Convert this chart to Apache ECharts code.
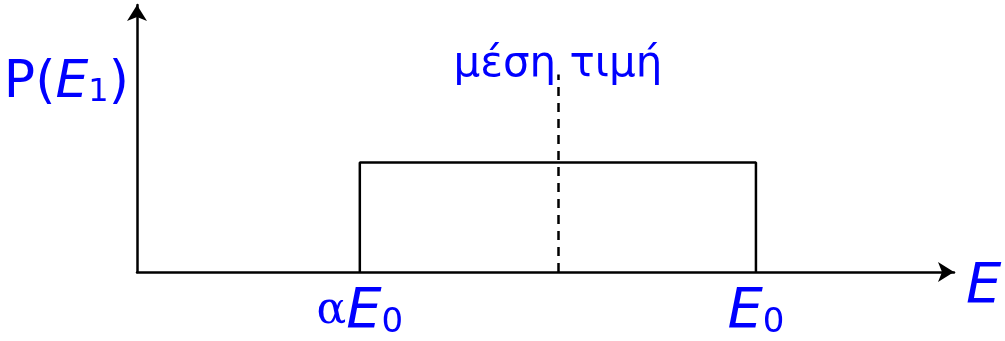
<!DOCTYPE html>
<html>
<head>
<meta charset="utf-8">
<script src="https://cdn.jsdelivr.net/npm/echarts@6/dist/echarts.min.js"></script>
<style>
  html, body { margin: 0; padding: 0; background: #fff; }
  #main { width: 1005px; height: 341px; }
</style>
</head>
<body>
<div id="main"></div>
<script>
// uniform distribution of E1 between alpha*E0 and E0
var xRange = [0, 1.32];
var yRange = [0, 1];
var aE0 = 0.36;
var E0 = 1.0;
var density = 0.41;
var meanValue = (aE0 + E0) / 2;
var meanLineTop = 0.74;
var boxPoints = [[aE0, 0], [aE0, density], [E0, density], [E0, 0]];
var tickValues = [aE0, E0];

var blue = '#0000ff';
var sans = 'DejaVu Sans';

var myChart = echarts.init(document.getElementById('main'));
myChart.setOption({
    animation: false,
    grid: { left: 137, right: 51, top: 5, bottom: 69, outerBoundsMode: 'none', containLabel: false },
    xAxis: {
        type: 'value',
        min: xRange[0],
        max: xRange[1],
        name: '{e|E}{s|1}',
        nameLocation: 'end',
        nameGap: 12,
        nameTextStyle: {
            padding: [30, 0, 0, 0],
            rich: {
                e: { fontFamily: sans, fontStyle: 'italic', fontSize: 56, color: blue },
                s: { fontFamily: sans, fontSize: 34, color: blue, padding: [22, 0, 0, 0] }
            }
        },
        axisLine: { lineStyle: { color: '#000', width: 2.5 }, symbol: ['none', 'arrow'], symbolSize: [15, 16] },
        axisTick: { show: false },
        splitLine: { show: false },
        axisLabel: {
            customValues: tickValues,
            margin: 12,
            formatter: function (v) {
                return v === aE0 ? '{a|α}{e|E}{s|0}' : '{e|E}{s|0}';
            },
            rich: {
                a: { fontFamily: 'DejaVu Serif', fontSize: 44, color: blue },
                e: { fontFamily: sans, fontStyle: 'italic', fontSize: 56, color: blue },
                s: { fontFamily: sans, fontSize: 34, color: blue, padding: [22, 0, 0, 0] }
            }
        }
    },
    yAxis: {
        type: 'value',
        min: yRange[0],
        max: yRange[1],
        name: 'P({e|E}{s|1})',
        nameLocation: 'end',
        nameGap: 0,
        nameTextStyle: {
            fontFamily: sans,
            fontSize: 52,
            color: blue,
            align: 'right',
            verticalAlign: 'top',
            padding: [52, 8, 0, 0],
            rich: {
                e: { fontFamily: sans, fontStyle: 'italic', fontSize: 52, color: blue },
                s: { fontFamily: sans, fontSize: 32, color: blue, padding: [20, 0, 0, 0] }
            }
        },
        axisLine: { lineStyle: { color: '#000', width: 2.5 }, symbol: ['none', 'arrow'], symbolSize: [15, 16] },
        axisTick: { show: false },
        axisLabel: { show: false },
        splitLine: { show: false }
    },
    series: [{
        type: 'line',
        data: boxPoints,
        showSymbol: false,
        lineStyle: { color: '#000', width: 2.5 },
        markLine: {
            silent: true,
            symbol: ['none', 'none'],
            lineStyle: { color: '#000', width: 2.5, type: [9, 7] },
            label: {
                show: true,
                position: 'end',
                distance: 0,
                offset: [0, 12],
                formatter: 'μέση τιμή',
                fontFamily: sans,
                fontSize: 42,
                color: blue
            },
            data: [[{ coord: [meanValue, 0] }, { coord: [meanValue, meanLineTop] }]]
        }
    }]
});
</script>
</body>
</html>
